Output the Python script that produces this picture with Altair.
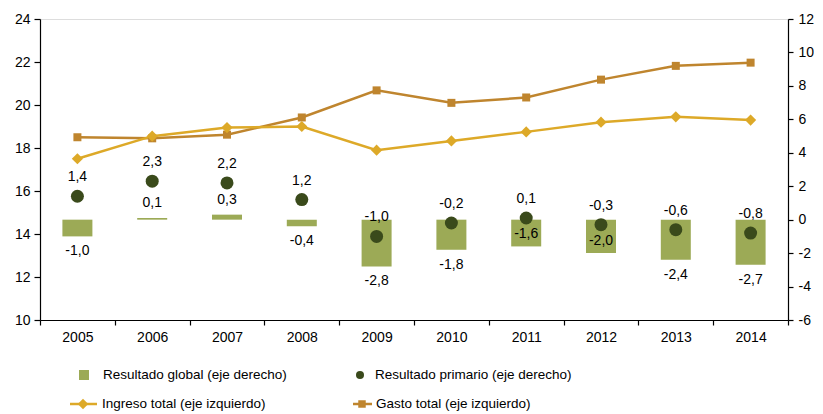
import altair as alt
import pandas as pd

# ---- data ----
years = ["2005", "2006", "2007", "2008", "2009", "2010", "2011", "2012", "2013", "2014"]
ingreso_total = [17.5, 18.55, 18.95, 19.0, 17.9, 18.33, 18.75, 19.2, 19.45, 19.3]
gasto_total = [18.5, 18.45, 18.62, 19.42, 20.68, 20.1, 20.35, 21.18, 21.82, 21.97]
resultado_global = [-1.0, 0.1, 0.3, -0.4, -2.8, -1.8, -1.6, -2.0, -2.4, -2.7]
resultado_primario = [1.4, 2.3, 2.2, 1.2, -1.0, -0.2, 0.1, -0.3, -0.6, -0.8]
labels_inside_bar = ["2011", "2012"]  # labels that sit inside their bar in the original

legend_labels = [
    "Resultado global (eje derecho)",
    "Resultado primario (eje derecho)",
    "Ingreso total  (eje izquierdo)",
    "Gasto total  (eje izquierdo)",
]

C_INGRESO = "#DDA928"
C_GASTO = "#BF852E"
C_BAR = "#9CAA56"
C_DOT = "#3A4A1B"
FONT = "Liberation Sans"
AX = dict(labelFont=FONT, labelFontSize=14, labelColor="black",
          domainColor="black", tickColor="black", domainWidth=1.2, tickWidth=1.2)


def fmt(v):
    return f"{v:.1f}".replace(".", ",")


df = pd.DataFrame({
    "year": years,
    "ingreso": ingreso_total,
    "gasto": gasto_total,
    "global": resultado_global,
    "primario": resultado_primario,
})
df["lbl_g"] = [fmt(v) for v in resultado_global]
df["lbl_p"] = [fmt(v) for v in resultado_primario]
df["inside"] = df["year"].isin(labels_inside_bar)

base = alt.Chart(df)

x_enc = alt.X(
    "year:O",
    scale=alt.Scale(paddingInner=0, paddingOuter=0),
    axis=alt.Axis(title=None, labelAngle=0, tickBand="extent", tickSize=5,
                  labelPadding=5, **AX),
)

axis_r = alt.Axis(orient="right", title=None, values=list(range(-6, 13, 2)),
                  tickSize=5, labelPadding=5, grid=False,
                  labelExpr="datum.value < 0 ? '-' + abs(datum.value) : '' + datum.value", **AX)
scale_r = alt.Scale(domain=[-6, 12], nice=False, zero=False)


def yR(field):
    return alt.Y(f"{field}:Q", scale=scale_r, axis=axis_r, title=None)


axis_l = alt.Axis(orient="left", title=None, values=list(range(10, 25, 2)),
                  tickSize=6, labelPadding=4, grid=False, **AX)
scale_l = alt.Scale(domain=[10, 24], nice=False, zero=False)


def yL(field):
    return alt.Y(f"{field}:Q", scale=scale_l, axis=axis_l, title=None)


bars = base.mark_bar(size=30, color=C_BAR).encode(x=x_enc, y=yR("global"))
dots = base.mark_circle(size=169, color=C_DOT, opacity=1).encode(x=x_enc, y=yR("primario"))

txt = dict(font=FONT, fontSize=14, color="black", baseline="middle", align="center")
lab_pos = base.transform_filter("datum.global >= 0").mark_text(dy=-15, **txt).encode(
    x=x_enc, y=yR("global"), text="lbl_g:N")
lab_neg = base.transform_filter("datum.global < 0 && !datum.inside").mark_text(dy=15, **txt).encode(
    x=x_enc, y=yR("global"), text="lbl_g:N")
lab_in = base.transform_filter("datum.inside").mark_text(dy=-12, **txt).encode(
    x=x_enc, y=yR("global"), text="lbl_g:N")
lab_p = base.mark_text(dy=-19, **txt).encode(x=x_enc, y=yR("primario"), text="lbl_p:N")

right_group = alt.layer(bars, dots, lab_pos, lab_neg, lab_in, lab_p)

line_ing = base.mark_line(color=C_INGRESO, strokeWidth=2.5).encode(x=x_enc, y=yL("ingreso"))
pts_ing = base.mark_point(shape="diamond", size=125, filled=True, color=C_INGRESO, opacity=1).encode(
    x=x_enc, y=yL("ingreso"))
line_gas = base.mark_line(color=C_GASTO, strokeWidth=2.5).encode(x=x_enc, y=yL("gasto"))
pts_gas = base.mark_point(shape="square", size=64, filled=True, color=C_GASTO, opacity=1).encode(
    x=x_enc, y=yL("gasto"))

left_group = alt.layer(line_gas, line_ing, pts_gas, pts_ing)

# ---- manual legend (below plot area) ----
one = alt.Data(values=[{"a": 1}])
leg_txt = dict(font=FONT, fontSize=13.5, color="black", baseline="middle", align="left")
ROW1, ROW2 = 356, 385
legend_layers = [
    alt.Chart(one).mark_square(size=100, color=C_BAR, opacity=1).encode(x=alt.value(44), y=alt.value(ROW1)),
    alt.Chart(one).mark_text(text=legend_labels[0], **leg_txt).encode(x=alt.value(63), y=alt.value(ROW1)),
    alt.Chart(one).mark_circle(size=64, color=C_DOT, opacity=1).encode(x=alt.value(320), y=alt.value(ROW1)),
    alt.Chart(one).mark_text(text=legend_labels[1], **leg_txt).encode(x=alt.value(335), y=alt.value(ROW1)),
    alt.Chart(one).mark_rule(color=C_INGRESO, strokeWidth=2.5).encode(
        x=alt.value(30), x2=alt.value(57), y=alt.value(ROW2)),
    alt.Chart(one).mark_point(shape="diamond", size=110, filled=True, color=C_INGRESO, opacity=1).encode(
        x=alt.value(43), y=alt.value(ROW2)),
    alt.Chart(one).mark_text(text=legend_labels[2], **leg_txt).encode(x=alt.value(62), y=alt.value(ROW2)),
    alt.Chart(one).mark_rule(color=C_GASTO, strokeWidth=2.5).encode(
        x=alt.value(313), x2=alt.value(332), y=alt.value(ROW2)),
    alt.Chart(one).mark_square(size=56, color=C_GASTO, opacity=1).encode(x=alt.value(322), y=alt.value(ROW2)),
    alt.Chart(one).mark_text(text=legend_labels[3], **leg_txt).encode(x=alt.value(336), y=alt.value(ROW2)),
]

chart = alt.layer(right_group, left_group, *legend_layers).resolve_scale(
    y="independent"
).properties(
    width=748, height=301,
    padding={"left": 6, "top": 4, "right": 0, "bottom": 2},
).configure_view(stroke=None).configure(background="white")

chart.save("out.html", embed_options={"renderer": "svg", "actions": False})
